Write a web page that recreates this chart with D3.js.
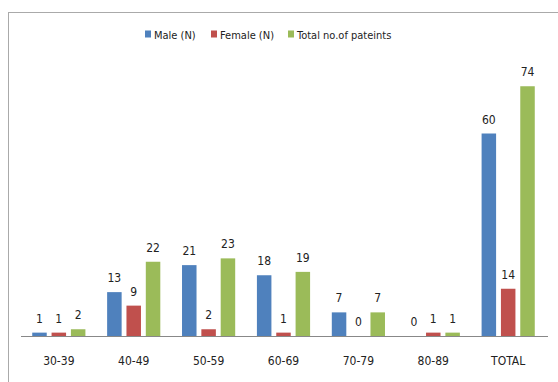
<!DOCTYPE html>
<html>
<head>
<meta charset="utf-8">
<script src="https://cdn.jsdelivr.net/npm/d3@7"></script>
<style>
  html, body { margin: 0; padding: 0; background: #fff; }
  svg { display: block; }
  text { font-family: "Liberation Sans Narrow", "DejaVu Sans Condensed", "Liberation Sans", sans-serif; fill: #222; }
</style>
</head>
<body>
<svg id="chart" width="558" height="382"></svg>
<script>
// Age groups and patient counts
const categories = ["30-39", "40-49", "50-59", "60-69", "70-79", "80-89", "TOTAL"];
const seriesNames = ["Male (N)", "Female (N)", "Total no.of pateints"];
const male = [1, 13, 21, 18, 7, 0, 60];
const female = [1, 9, 2, 1, 0, 1, 14];
const total = [2, 22, 23, 19, 7, 1, 74];
const colors = ["#4F81BD", "#C0504D", "#9BBB59"];

const seriesValues = [male, female, total];
const rows = categories.map((c, i) => ({
  category: c,
  values: seriesValues.map((s, k) => ({ key: seriesNames[k], k, v: s[i] }))
}));

const svg = d3.select("#chart");
const W = 558, H = 382;

// outer chart frame (runs off the right and bottom edges)
svg.append("rect")
  .attr("x", 8.5).attr("y", 12.5)
  .attr("width", W + 10).attr("height", H + 10)
  .attr("fill", "#fff").attr("stroke", "#aaa").attr("stroke-width", 1);

const axisY = 336;
const x0 = d3.scaleBand().domain(categories).range([21, 546]).paddingInner(0.29).paddingOuter(0.15);
const x1 = d3.scaleBand().domain([0, 1, 2]).range([0, x0.bandwidth()]).paddingInner(0.25);
const y = d3.scaleLinear().domain([0, 80]).range([axisY, 66]);

const g = svg.append("g");
const groups = g.selectAll("g.grp").data(rows).join("g")
  .attr("class", "grp")
  .attr("transform", d => `translate(${x0(d.category)},0)`);

groups.selectAll("rect").data(d => d.values).join("rect")
  .attr("x", d => x1(d.k))
  .attr("width", x1.bandwidth())
  .attr("y", d => y(d.v))
  .attr("height", d => y(0) - y(d.v))
  .attr("fill", d => colors[d.k]);

groups.selectAll("text.val").data(d => d.values).join("text")
  .attr("class", "val")
  .attr("x", d => x1(d.k) + x1.bandwidth() / 2)
  .attr("y", d => y(d.v) - 10)
  .attr("text-anchor", "middle")
  .attr("font-size", 12)
  .text(d => d.v);

// category axis
const xAxis = d3.axisBottom(x0).tickSize(0).tickPadding(20);
const ax = svg.append("g").attr("transform", `translate(0,${axisY})`).call(xAxis);
ax.select(".domain").attr("stroke", "#888").attr("d", "M21,0.5H548");
ax.selectAll("text").attr("font-size", 12).attr("fill", "#222")
  .style("font-family", "'Liberation Sans Narrow', 'DejaVu Sans Condensed', 'Liberation Sans', sans-serif");

// legend
const legendX = [145, 211, 288];
const legend = svg.append("g").selectAll("g").data(seriesNames).join("g")
  .attr("transform", (d, i) => `translate(${legendX[i]},30)`);
legend.append("rect").attr("width", 6).attr("height", 7).attr("y", 0.5)
  .attr("fill", (d, i) => colors[i]);
legend.append("text").attr("x", 9).attr("y", 8.5).attr("font-size", 11).text(d => d);
</script>
</body>
</html>
